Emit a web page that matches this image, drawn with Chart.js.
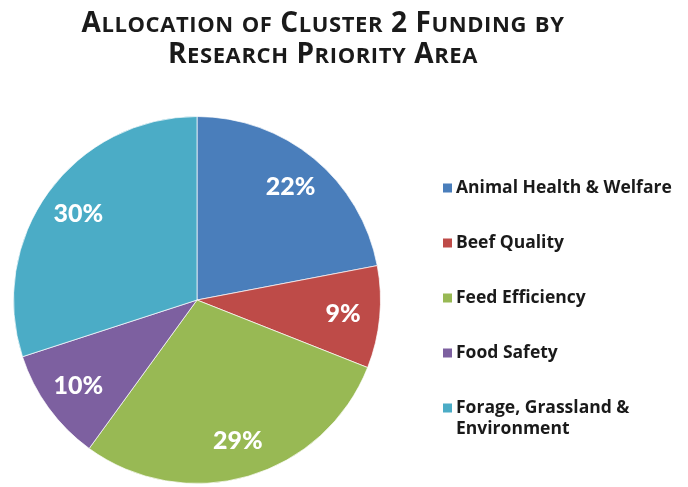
<!DOCTYPE html>
<html>
<head>
<meta charset="utf-8">
<script src="https://cdn.jsdelivr.net/npm/chart.js@4.4.1/dist/chart.umd.min.js"></script>
<style>
  html, body { margin: 0; padding: 0; background: #fff; }
  #wrap { width: 688px; height: 487px; position: relative; }
</style>
</head>
<body>
<div id="wrap"><canvas id="pieChart"></canvas></div>
<script>
// Data
const titleLines = ['Allocation of Cluster 2 Funding by', 'Research Priority Area'];
const categories = ['Animal Health & Welfare', 'Beef Quality', 'Feed Efficiency', 'Food Safety', 'Forage, Grassland & Environment'];
const legendLines = [['Animal Health & Welfare'], ['Beef Quality'], ['Feed Efficiency'], ['Food Safety'], ['Forage, Grassland &', 'Environment']];
const shares = [22, 9, 29, 10, 30];
const sliceColors = ['#4a7ebb', '#be4b48', '#98b954', '#7d60a0', '#4bacc6'];

const FONT = '"Open Sans", Lato, sans-serif';
const LABEL_FONT = 'Lato, "Open Sans", sans-serif';

// Title drawn as small caps: capitals and digits big, lowercase letters as smaller capitals
const titlePlugin = {
    id: 'smallCapsTitle',
    afterDraw(chart) {
        const ctx = chart.ctx;
        const big = `bold 28px ${FONT}`;
        const small = `bold 22px ${FONT}`;
        const spacing = 0.6;
        const baselines = [32, 63];
        const centerX = 323;
        ctx.save();
        ctx.fillStyle = '#1a1a1a';
        ctx.textBaseline = 'alphabetic';
        titleLines.forEach((line, i) => {
            const parts = [...line].map(ch => {
                const isSmall = ch !== ch.toUpperCase();
                return { text: ch.toUpperCase(), font: isSmall ? small : big };
            });
            let total = 0;
            parts.forEach(p => { ctx.font = p.font; p.w = ctx.measureText(p.text).width + spacing; total += p.w; });
            let x = centerX - total / 2;
            parts.forEach(p => {
                ctx.font = p.font;
                ctx.fillText(p.text, x, baselines[i]);
                x += p.w;
            });
        });
        ctx.restore();
    }
};

// Percentage labels inside the slices
const sliceLabelPlugin = {
    id: 'sliceLabels',
    afterDatasetsDraw(chart) {
        const ctx = chart.ctx;
        const meta = chart.getDatasetMeta(0);
        ctx.save();
        ctx.font = `900 25px ${LABEL_FONT}`;
        ctx.fillStyle = '#fff';
        ctx.textAlign = 'center';
        ctx.textBaseline = 'middle';
        meta.data.forEach((arc, i) => {
            const p = arc.getProps(['x', 'y', 'startAngle', 'endAngle', 'outerRadius'], true);
            const mid = (p.startAngle + p.endAngle) / 2;
            const r = p.outerRadius * 0.8;
            ctx.fillText(shares[i] + '%', p.x + Math.cos(mid) * r, p.y + Math.sin(mid) * r);
        });
        ctx.restore();
    }
};

// Legend on the right
const sideLegendPlugin = {
    id: 'sideLegend',
    afterDraw(chart) {
        const ctx = chart.ctx;
        const x0 = 443, y0 = 188, step = 55, box = 9, lineH = 21;
        ctx.save();
        ctx.font = `bold 17.5px ${FONT}`;
        ctx.textBaseline = 'middle';
        legendLines.forEach((lines, i) => {
            const y = y0 + i * step;
            ctx.fillStyle = sliceColors[i];
            ctx.fillRect(x0, y - box / 2, box, box);
            ctx.fillStyle = '#1a1a1a';
            lines.forEach((t, j) => ctx.fillText(t, x0 + 13, y + j * lineH));
        });
        ctx.restore();
    }
};

const ctx = document.getElementById('pieChart').getContext('2d');
const pieChart = new Chart(ctx, {
    type: 'pie',
    data: {
        labels: categories,
        datasets: [{
            data: shares,
            backgroundColor: sliceColors,
            borderColor: 'rgba(255,255,255,0.7)',
            borderWidth: 1
        }]
    },
    options: {
        responsive: true,
        maintainAspectRatio: false,
        animation: false,
        layout: { padding: { top: 116, bottom: 3, left: 13, right: 307 } },
        plugins: {
            legend: { display: false },
            title: { display: false },
            tooltip: { enabled: false }
        }
    },
    plugins: [titlePlugin, sliceLabelPlugin, sideLegendPlugin]
});
</script>
</body>
</html>
